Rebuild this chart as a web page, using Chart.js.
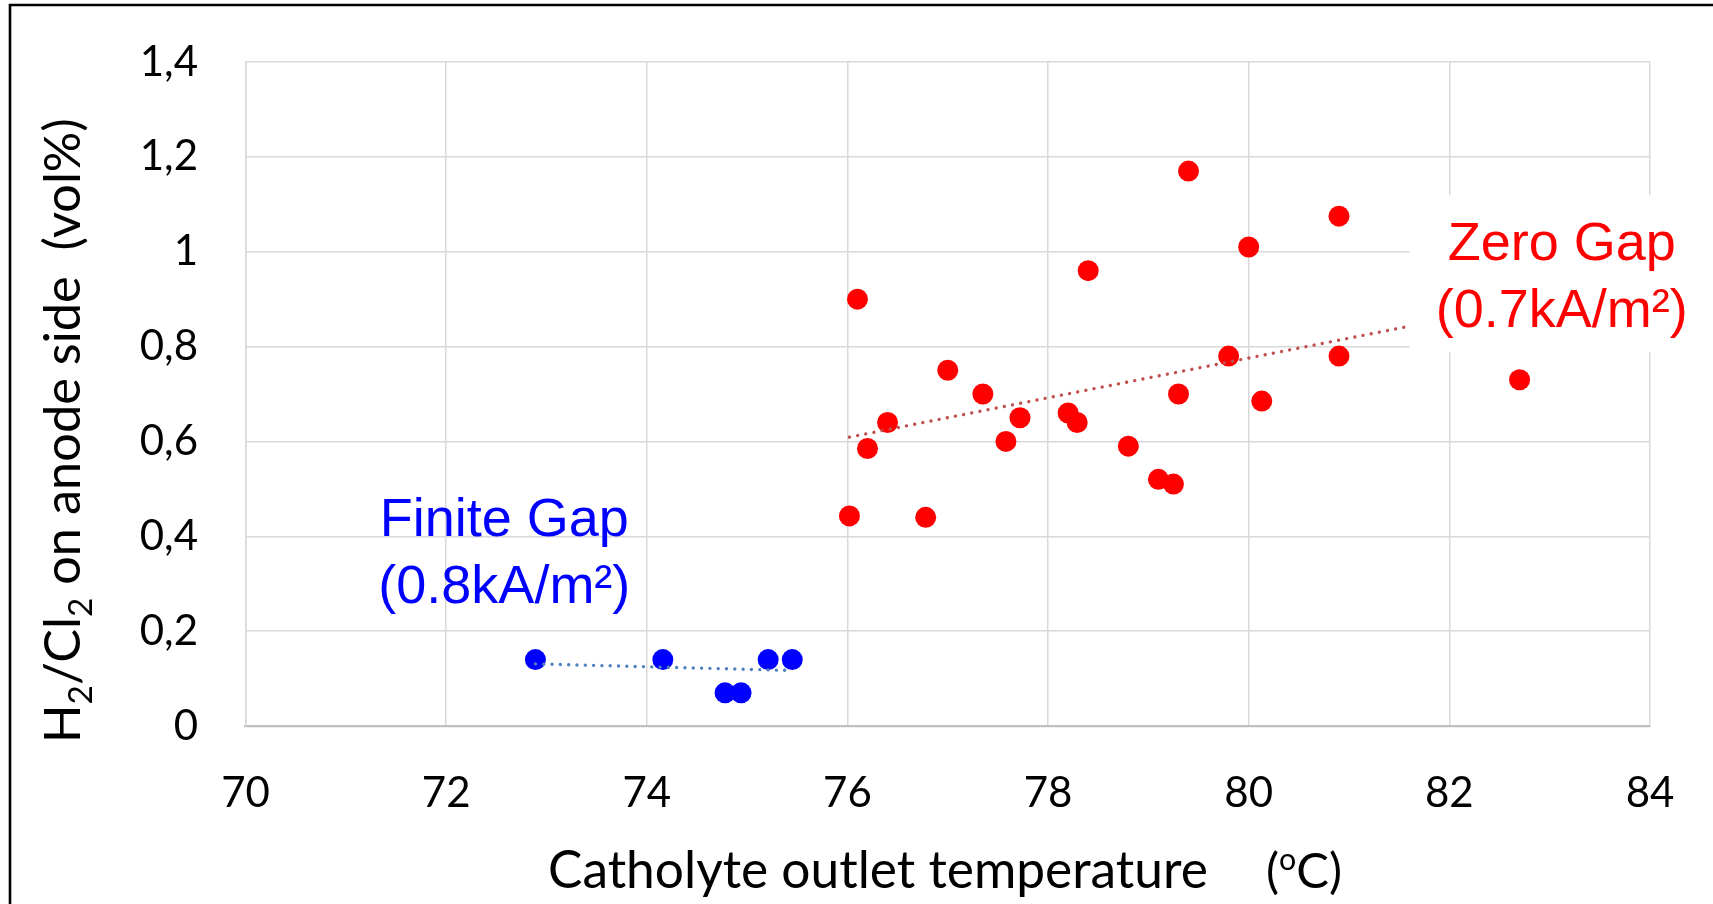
<!DOCTYPE html>
<html><head><meta charset="utf-8">
<script src="https://cdn.jsdelivr.net/npm/chart.js@4.4.1/dist/chart.umd.min.js"></script>
<style>html,body{margin:0;padding:0;background:#fff;overflow:hidden}#wrap{width:1713px;height:904px;position:relative}</style>
</head><body><div id="wrap"><canvas id="c" width="1713" height="904"></canvas></div>
<script>
// ---- data ----
const finiteTemp = [72.89, 74.16, 74.78, 74.94, 75.21, 75.45];
const finiteH2   = [0.14, 0.14, 0.07, 0.07, 0.14, 0.14];
const zeroTemp = [76.02, 76.10, 76.20, 76.40, 76.78, 77.00, 77.35, 77.58, 77.72, 78.20, 78.29, 78.40, 78.80, 79.10, 79.25, 79.30, 79.40, 79.80, 80.00, 80.13, 80.90, 80.90, 82.70];
const zeroH2   = [0.443, 0.90, 0.585, 0.64, 0.44, 0.75, 0.70, 0.60, 0.65, 0.66, 0.64, 0.96, 0.59, 0.52, 0.51, 0.70, 1.17, 0.78, 1.01, 0.685, 1.075, 0.78, 0.73];
const finiteTrendTemp = [72.89, 75.45];
const finiteTrendH2   = [0.131, 0.117];
const zeroTrendTemp = [76.02, 82.70];
const zeroTrendH2   = [0.609, 0.889];
const xTickValues = [70, 72, 74, 76, 78, 80, 82, 84];
const yTickValues = [0, 0.2, 0.4, 0.6, 0.8, 1.0, 1.2, 1.4];
const yTickLabels = ['0', '0,2', '0,4', '0,6', '0,8', '1', '1,2', '1,4'];
const finiteLabel = ['Finite Gap', '(0.8kA/m²)'];
const zeroLabel   = ['Zero Gap', '(0.7kA/m²)'];
const finiteLabelAt = [72.58, 0.40];
const zeroLabelAt   = [83.12, 0.982];

const toPts = (xs, ys) => xs.map((x, i) => ({x: x, y: ys[i]}));
const TICKFONT = 'Lato';

function drawRich(ctx, parts, size, family, doDraw) {
  let x = 0;
  for (const p of parts) {
    const fs = p.s ? size * p.s : size;
    ctx.font = fs + 'px ' + family;
    if (doDraw) ctx.fillText(p.t, x, p.dy ? p.dy * size : 0);
    x += ctx.measureText(p.t).width;
  }
  return x;
}

const annot = {
  id: 'annot',
  afterDatasetsDraw(chart) {
    const ctx = chart.ctx, xs = chart.scales.x, ys = chart.scales.y;
    ctx.save();
    ctx.font = '54px "Liberation Sans", Arial, sans-serif';
    ctx.textAlign = 'center';
    ctx.textBaseline = 'alphabetic';
    const lh = 67;
    // Zero gap label with white box
    const zx = xs.getPixelForValue(zeroLabelAt[0]), zy = ys.getPixelForValue(zeroLabelAt[1]);
    const zw = Math.max(...zeroLabel.map(t => ctx.measureText(t).width));
    ctx.fillStyle = '#fff';
    ctx.fillRect(zx - zw / 2 - 26, zy - 65, zw + 52, 65 + lh + 25);
    ctx.fillStyle = '#FF0000';
    zeroLabel.forEach((t, i) => ctx.fillText(t, zx, zy + i * lh));
    // Finite gap label
    const fx = xs.getPixelForValue(finiteLabelAt[0]), fy = ys.getPixelForValue(finiteLabelAt[1]);
    ctx.fillStyle = '#0000FF';
    finiteLabel.forEach((t, i) => ctx.fillText(t, fx, fy + i * lh));
    ctx.restore();
  },
  afterDraw(chart) {
    const ctx = chart.ctx;
    ctx.save();
    ctx.fillStyle = '#000';
    ctx.textAlign = 'left';
    ctx.textBaseline = 'alphabetic';
    // X title
    const main = [{t: 'Catholyte outlet temperature'}];
    let w = drawRich(ctx, main, 50, TICKFONT, false);
    let s = 50 * 660 / w;
    ctx.save(); ctx.translate(548, 888); drawRich(ctx, main, s, TICKFONT, true); ctx.restore();
    const unit = [{t: '('}, {t: 'o', s: 0.62, dy: -0.36}, {t: 'C)'}];
    w = drawRich(ctx, unit, 50, TICKFONT, false);
    const s2 = 50 * 76 / w;
    ctx.save(); ctx.translate(1266, 888); drawRich(ctx, unit, s2, TICKFONT, true); ctx.restore();
    // Y title
    const yparts = [{t: 'H'}, {t: '2', s: 0.66, dy: 0.24}, {t: '/Cl'}, {t: '2', s: 0.66, dy: 0.24}, {t: ' on anode side  (vol%)'}];
    w = drawRich(ctx, yparts, 50, TICKFONT, false);
    const s3 = 50 * 625 / w;
    ctx.save(); ctx.translate(80, 743); ctx.rotate(-Math.PI / 2); drawRich(ctx, yparts, s3, TICKFONT, true); ctx.restore();
    // outer frame
    ctx.strokeStyle = '#000';
    ctx.lineWidth = 2.6;
    ctx.beginPath();
    ctx.moveTo(10, 904); ctx.lineTo(10, 5); ctx.lineTo(1713, 5);
    ctx.stroke();
    ctx.restore();
  }
};

new Chart(document.getElementById('c').getContext('2d'), {
  type: 'scatter',
  data: {
    datasets: [
      {label: 'Finite Gap trend', data: toPts(finiteTrendTemp, finiteTrendH2), showLine: true, pointRadius: 0,
       borderColor: '#4F81BD', borderWidth: 3.4, borderDash: [0.01, 8.3], borderCapStyle: 'round', fill: false, order: 0},
      {label: 'Zero Gap trend', data: toPts(zeroTrendTemp, zeroTrendH2), showLine: true, pointRadius: 0,
       borderColor: '#C0504D', borderWidth: 3.4, borderDash: [0.01, 8.3], borderCapStyle: 'round', fill: false, order: 0},
      {label: 'Finite Gap', data: toPts(finiteTemp, finiteH2), backgroundColor: '#0000FF', borderColor: '#0000FF',
       pointRadius: 10.5, borderWidth: 0, order: 1},
      {label: 'Zero Gap', data: toPts(zeroTemp, zeroH2), backgroundColor: '#FF0000', borderColor: '#FF0000',
       pointRadius: 10.5, borderWidth: 0, order: 1}
    ]
  },
  options: {
    responsive: false, animation: false, devicePixelRatio: 1,
    layout: {padding: {left: 0, top: 62, right: 63, bottom: 0}},
    plugins: {legend: {display: false}, tooltip: {enabled: false}},
    scales: {
      x: {
        type: 'linear', min: 70, max: 84,
        afterBuildTicks: s => { s.ticks = xTickValues.map(v => ({value: v})); },
        afterFit: s => { s.height = 178; s.paddingLeft = 0; s.paddingRight = 0; },
        ticks: {font: {family: TICKFONT, size: 42}, color: '#000', padding: 42, maxRotation: 0, autoSkip: false},
        grid: {color: '#D9D9D9', lineWidth: 1.5, drawTicks: false},
        border: {color: '#BFBFBF', width: 2.2}
      },
      y: {
        type: 'linear', min: 0, max: 1.4,
        afterBuildTicks: s => { s.ticks = yTickValues.map(v => ({value: v})); },
        afterFit: s => { s.width = 245.5; s.paddingTop = 0; s.paddingBottom = 0; },
        ticks: {font: {family: TICKFONT, size: 42}, color: '#000', padding: 47.5, autoSkip: false,
                callback: (v, i) => yTickLabels[i]},
        grid: {color: '#D9D9D9', lineWidth: 1.5, drawTicks: false},
        border: {color: '#D9D9D9', width: 1.5}
      }
    }
  },
  plugins: [annot]
});
</script></body></html>
